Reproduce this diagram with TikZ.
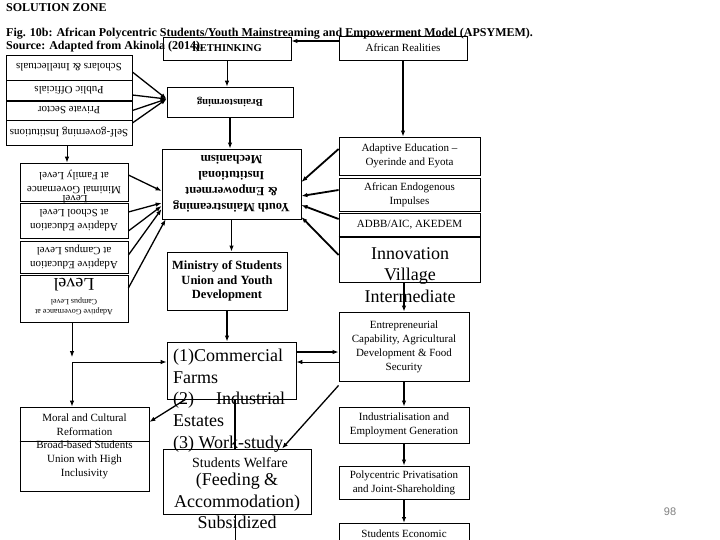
\documentclass[tikz,border=0pt]{standalone}
\usepackage{fontspec}
\setmainfont{Liberation Serif}
\newfontfamily\pagenofont{Liberation Sans}
\usetikzlibrary{arrows.meta}

\begin{document}
\begin{tikzpicture}[x=1pt, y=-1pt,
  blk/.style={draw, rectangle, line width=0.8pt, align=center, inner sep=1pt, font=\fontsize{11}{14}\selectfont},
  arr/.style={-{Latex[length=6pt,width=4.5pt]}, line width=0.9pt},
  mid/.style={arr, line width=1.3pt},
  thk/.style={arr, line width=1.8pt},
  big/.style={font=\fontsize{18}{21.6}\selectfont, inner sep=0pt},
  small/.style={font=\fontsize{11}{14}\selectfont, inner sep=0pt},
  hd/.style={font=\fontsize{12}{13}\selectfont\bfseries, anchor=base west, inner sep=0pt}]
\clip (0,0) rectangle (720,540);
\fill[white] (0,0) rectangle (720,540);
% Left column, upper group (printed upside down)
\node[blk, rotate=180, minimum width=126pt, minimum height=25pt] (scholars) at (69,67.5) {Scholars \& Intellectuals};
\node[blk, rotate=180, minimum width=126pt, minimum height=21pt] (officials) at (69,90.5) {Public Officials};
\node[blk, rotate=180, minimum width=126pt, minimum height=19pt] (private) at (69,110.5) {Private Sector};
\node[blk, rotate=180, minimum width=126pt, minimum height=25pt] (selfgov) at (69,132.5) {Self-governing Institutions};
\draw[line width=2pt] (officials.north west) -- (officials.north east);
% Left column, lower group (printed upside down)
\node[blk, rotate=180, minimum width=108pt, minimum height=38pt] (minimal) at (74,182) {Minimal Governance\\at Family Level};
\node[blk, rotate=180, minimum width=108pt, minimum height=35pt] (school) at (74,220.5) {Adaptive Education\\at School Level};
\node[blk, rotate=180, minimum width=108pt, minimum height=32pt] (campus) at (74,257) {Adaptive Education\\at Campus Level};
\node[blk, rotate=180, minimum width=108pt, minimum height=47pt] (gov) at (74,298.5) {};
\node[small, rotate=180] (minlevel) at (75,199.5) {Level};
\node[rotate=180, font=\fontsize{8}{9.5}\selectfont, align=center, inner sep=0pt] (govsmall) at (74,306.5) {Adaptive Governance at\\Campus Level};
\node[big, rotate=180] (govbig) at (74,285) {Level};
% Middle column
\node[blk, minimum width=128pt, minimum height=23pt, font=\fontsize{10.5}{12}\selectfont\bfseries] (reth) at (227,48.5) {RETHINKING};
\node[blk, rotate=180, minimum width=126pt, minimum height=30pt, font=\fontsize{10.5}{12}\selectfont\bfseries] (brain) at (230,102) {Brainstorming};
\node[blk, rotate=180, minimum width=139pt, minimum height=70pt, font=\fontsize{12.5}{16}\selectfont\bfseries] (youth) at (231.5,184) {Youth Mainstreaming\\\& Empowerment\\Institutional\\Mechanism};
\node[blk, minimum width=120pt, minimum height=58pt, font=\fontsize{12.5}{14.5}\selectfont\bfseries] (ministry) at (227,281) {Ministry of Students\\Union and Youth\\Development};
\node[blk, minimum width=129pt, minimum height=57pt] (comm) at (231.5,370.5) {};
\node[big, anchor=north west, align=left] (commtxt) at (173,349) {(1)Commercial\\Farms\\(2)\hspace{22pt}Industrial\\Estates\\(3) Work-study};
\node[blk, minimum width=129pt, minimum height=84pt] (moral) at (84.5,449) {};
\draw[line width=0.8pt] ([yshift=8pt]moral.west) -- ([yshift=8pt]moral.east);
\node[small, align=center] (moraltop) at (84.5,425) {Moral and Cultural\\Reformation};
\node[small, align=center] (moralbot) at (84.5,459.5) {Broad-based Students\\Union with High\\Inclusivity};
\node[blk, minimum width=148pt, minimum height=65pt] (welfare) at (237,481.5) {};
\node[font=\fontsize{14}{16}\selectfont, anchor=base, inner sep=0pt] (welfhead) at (240,467) {Students Welfare};
\node[big, anchor=north, align=center] (welftxt) at (237,473) {(Feeding \&\\Accommodation)\\Subsidized};
% Right column
\node[blk, minimum width=128pt, minimum height=24pt] (afr) at (403,48) {African Realities};
\node[blk, minimum width=141pt, minimum height=38pt] (adapt) at (409.5,156) {Adaptive Education --\\Oyerinde and Eyota};
\node[blk, minimum width=141pt, minimum height=33pt] (endog) at (409.5,194.5) {African Endogenous\\Impulses};
\node[blk, minimum width=141pt, minimum height=24pt] (adbb) at (409.5,225) {ADBB/AIC, AKEDEM};
\node[blk, minimum width=141pt, minimum height=45pt] (innov) at (409.5,259.5) {};
\draw[line width=2pt] (adbb.south west) -- (adbb.south east);
\node[big, anchor=north, align=center] (innovtxt) at (410,247) {Innovation\\Village\\Intermediate};
\node[blk, minimum width=130pt, minimum height=69pt] (entre) at (404,346.5) {Entrepreneurial\\Capability, Agricultural\\Development \& Food\\Security};
\node[blk, minimum width=130pt, minimum height=36pt] (indust) at (404,425) {Industrialisation and\\Employment Generation};
\node[blk, minimum width=130pt, minimum height=33pt] (poly) at (404,482.5) {Polycentric Privatisation\\and Joint-Shareholding};
\node[blk, minimum width=130pt, minimum height=20pt, anchor=north] (econ) at (404,523) {Students Economic};
% Headings
\node[hd] (zone) at (6,12) {SOLUTION ZONE};
\node[hd] (figtitle) at (6,37) {Fig. 10b: African Polycentric Students/Youth Mainstreaming and Empowerment Model (APSYMEM).};
\node[hd] (source) at (6,50) {Source: Adapted from Akinola (2014).};
\node[font=\pagenofont\fontsize{11}{13}\selectfont, text=gray, inner sep=0pt] (pageno) at (670,512) {98};
% Connections into Brainstorming
\draw[arr] (reth.south) -- (reth.south |- brain.south);
\draw[mid] ([yshift=-4.5pt]scholars.west) -- ([yshift=3pt]brain.east);
\draw[mid] ([yshift=-4.5pt]officials.west) -- ([yshift=3pt]brain.east);
\draw[mid] (private.west) -- ([yshift=3pt]brain.east);
\draw[mid] ([yshift=9.5pt]selfgov.west) -- ([yshift=3pt]brain.east);
\draw[thk] ([yshift=7pt]afr.west) -- ([yshift=7.5pt]reth.east);
\draw[thk] (afr.south) -- (afr.south |- adapt.north);
% Connections into Youth Mainstreaming
\draw[thk] (brain.north) -- (brain.north |- youth.south);
\draw[mid] ([yshift=7pt]minimal.west) -- ([yshift=-7pt]youth.east);
\draw[mid] ([yshift=8.5pt]school.west) -- ([yshift=-19pt]youth.east);
\draw[mid] ([yshift=-10.5pt]school.west) -- ([yshift=-22pt]youth.east);
\draw[mid] ([yshift=2pt]campus.west) -- ([yshift=-25pt]youth.east);
\draw[mid] ([yshift=10.5pt]gov.west) -- ([xshift=4pt]youth.north east);
\draw[thk] ([yshift=7pt]adapt.west) -- ([yshift=2pt]youth.west);
\draw[thk] ([yshift=4.5pt]endog.west) -- ([yshift=-12pt]youth.west);
\draw[thk] ([yshift=6pt]adbb.west) -- ([yshift=-21pt]youth.west);
\draw[thk] ([yshift=4.5pt]innov.west) -- ([yshift=-33pt]youth.west);
% Down the middle
\draw[thk] (youth.north) -- (youth.north |- ministry.north);
\draw[thk] (ministry.south) -- (ministry.south |- comm.north);
\draw[arr] ([xshift=-2pt]selfgov.north) -- ([xshift=-2pt]selfgov.north |- minimal.south);
\coordinate (jn) at (72,362);
\draw[arr] ([xshift=-2pt]gov.north) -- ([yshift=5pt]jn);
\draw[arr] (jn) -- (jn -| comm.west);
\draw[arr] (jn) -- (jn |- moral.north);
\draw[mid] ([xshift=-46pt]comm.south) -- ([yshift=27pt]moral.east);
\draw[line width=1.8pt] ([xshift=3.5pt]comm.south) -- ([xshift=3.5pt]comm.south |- welfare.north);
\coordinate (wend) at (235,545);
\draw[line width=1pt] ([xshift=-2pt]welfare.south) -- (wend);
% Right column chain
\draw[thk] ([yshift=18.5pt]comm.east) -- ([yshift=-5.5pt]entre.west);
\draw[arr] ([yshift=-15.5pt]entre.west) -- ([yshift=8.5pt]comm.east);
\draw[mid] ([yshift=-4pt]entre.south west) -- ([xshift=45pt]welfare.north);
\draw[thk] (entre.north |- innov.south) -- (entre.north);
\draw[thk] (entre.south) -- (indust.north);
\draw[thk] (indust.south) -- (poly.north);
\draw[thk] (poly.south) -- (econ.north);
\end{tikzpicture}
\end{document}
